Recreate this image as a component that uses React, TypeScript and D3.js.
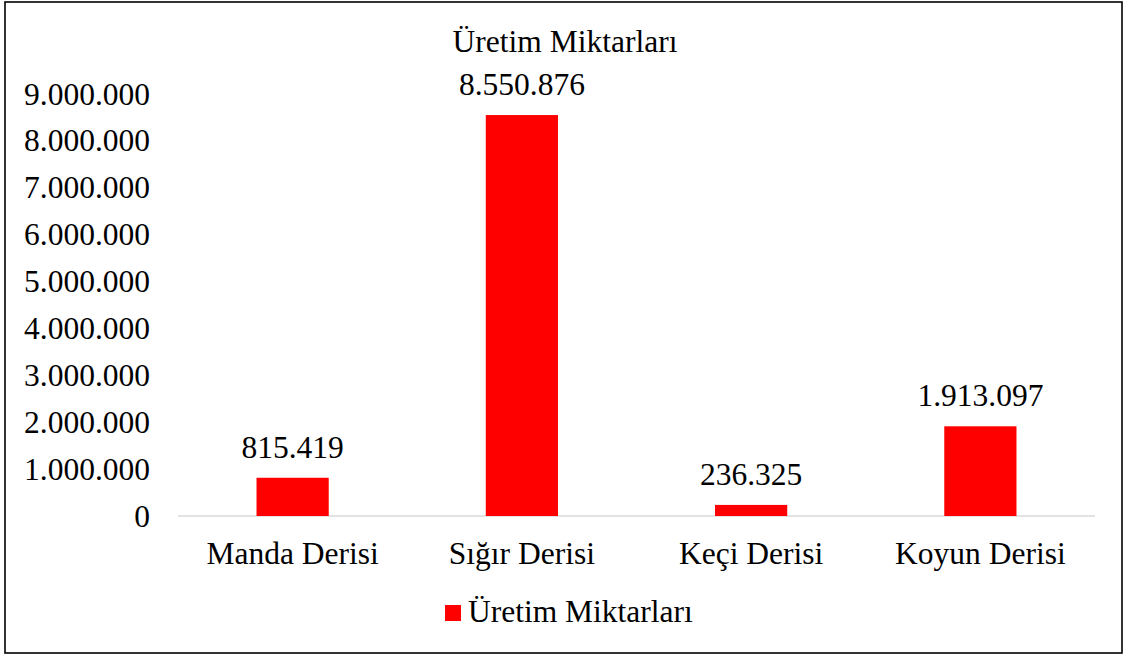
import React from "react";
import * as d3 from "d3";

const categories = ["Manda Derisi", "Sığır Derisi", "Keçi Derisi", "Koyun Derisi"];
const values = [815419, 8550876, 236325, 1913097];
const yTicks = [0, 1000000, 2000000, 3000000, 4000000, 5000000, 6000000, 7000000, 8000000, 9000000];
const seriesName = "Üretim Miktarları";
const titleText = "Üretim Miktarları";

const W = 1125, H = 655;
const FONT = "\"Liberation Serif\", \"Times New Roman\", serif";
const FS = 31.5;

const fmt = (v: number) => d3.format(",")(v).replace(/,/g, ".");

export default function App() {
  const x = d3.scaleBand<string>().domain(categories).range([178, 1095]).padding(0);
  const y = d3.scaleLinear().domain([0, 9000000]).range([516, 94]);
  const barW = x.bandwidth() * 0.315;
  const ts = { fontFamily: FONT };
  return (
    <svg width={W} height={H} style={{ position: "absolute", left: 0, top: 0, background: "#fff" }}>
      <rect x={5} y={2} width={1117} height={651} fill="#fff" stroke="#000" strokeWidth={1.6} />
      <text x={565} y={52} fontSize={FS} textAnchor="middle" fill="#000" style={ts}>{titleText}</text>
      {yTicks.map((t) => (
        <text key={t} x={150} y={y(t)} fontSize={FS} textAnchor="end" dominantBaseline="central" fill="#000" style={ts}>{fmt(t)}</text>
      ))}
      <line x1={178} x2={1095} y1={y(0)} y2={y(0)} stroke="#d9d9d9" strokeWidth={1.5} />
      {categories.map((c, i) => {
        const cx = (x(c) as number) + x.bandwidth() / 2;
        return (
          <g key={c}>
            <rect x={cx - barW / 2} y={y(values[i])} width={barW} height={y(0) - y(values[i])} fill="#ff0000" />
            <text x={cx} y={y(values[i]) - 20} fontSize={FS} textAnchor="middle" fill="#000" style={ts}>{fmt(values[i])}</text>
            <text x={cx} y={564} fontSize={FS} textAnchor="middle" fill="#000" style={ts}>{c}</text>
          </g>
        );
      })}
      <rect x={445} y={605} width={16} height={16} fill="#ff0000" />
      <text x={468} y={622} fontSize={FS} fill="#000" style={ts}>{seriesName}</text>
    </svg>
  );
}
